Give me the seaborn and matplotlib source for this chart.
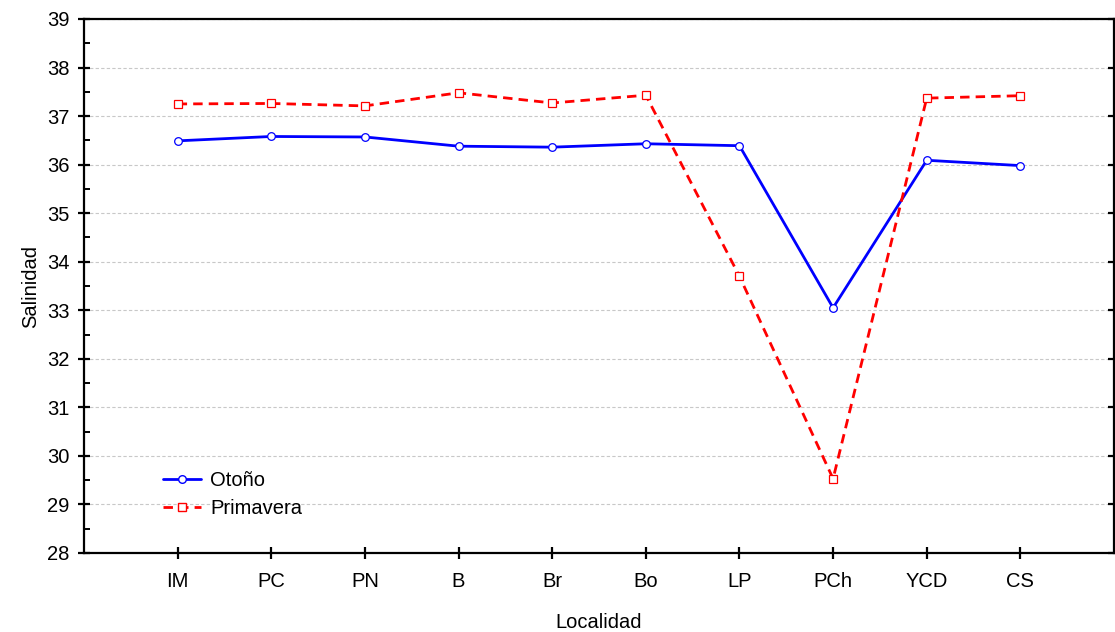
import matplotlib
matplotlib.use("Agg")
import matplotlib.pyplot as plt
from matplotlib.ticker import MultipleLocator
from matplotlib.lines import Line2D
import seaborn as sns
import pandas as pd

localidades = ["IM", "PC", "PN", "B", "Br", "Bo", "LP", "PCh", "YCD", "CS"]
otono = [36.49, 36.58, 36.57, 36.38, 36.36, 36.43, 36.39, 33.05, 36.09, 35.98]
primavera = [37.25, 37.26, 37.21, 37.48, 37.27, 37.43, 33.70, 29.53, 37.37, 37.42]
series = ["Otoño", "Primavera"]

sns.set_theme(style="white")
plt.rcParams['font.family'] = ['Liberation Sans', 'DejaVu Sans']
plt.rcParams['text.color'] = 'black'
plt.rcParams['axes.labelcolor'] = 'black'
plt.rcParams['xtick.color'] = 'black'
plt.rcParams['ytick.color'] = 'black'

df = pd.DataFrame({
    "pos": list(range(len(localidades))) * 2,
    "Salinidad": otono + primavera,
    "Serie": [series[0]] * len(otono) + [series[1]] * len(primavera),
})

fig = plt.figure(figsize=(11.15, 6.32), dpi=100)
ax = fig.add_axes([84/1115, 1 - 553/632, 1030/1115, 534/632])

sns.lineplot(data=df, x="pos", y="Salinidad", hue="Serie", style="Serie",
             palette={"Otoño": "#0000ff", "Primavera": "#ff0000"},
             dashes={"Otoño": "", "Primavera": (3.4, 2.2)},
             markers={"Otoño": "o", "Primavera": "s"},
             markersize=5.5, markerfacecolor="white", markeredgewidth=0.9,
             linewidth=2.0, ax=ax, legend=False)

for line, col in zip(ax.lines, ["#0000ff", "#ff0000"]):
    line.set_markeredgecolor(col)
    line.set_markerfacecolor("white")

ax.set_xlim(-1, len(localidades))
ax.set_ylim(28, 39)
ax.set_xticks(range(len(localidades)))
ax.set_xticklabels(localidades)
ax.yaxis.set_major_locator(MultipleLocator(1))
ax.yaxis.set_minor_locator(MultipleLocator(0.5))

ax.grid(axis="y", which="major", linestyle=(0, (3, 2)), color="#c8c8c8", linewidth=0.8)
ax.set_axisbelow(True)

for s in ax.spines.values():
    s.set_color("black")
    s.set_linewidth(1.6)
    s.set_visible(True)

ax.tick_params(axis="y", which="major", direction="inout", length=9, width=1.6,
               left=True, right=True, labelsize=14.5, pad=6)
ax.tick_params(axis="y", which="minor", direction="in", length=4, width=1.4,
               left=True, right=False)
ax.tick_params(axis="x", which="major", direction="inout", length=9, width=1.6,
               bottom=True, top=False, labelsize=14.5, pad=9)

ax.set_xlabel("Localidad", fontsize=14.5, labelpad=16)
ax.set_ylabel("Salinidad", fontsize=14.5, labelpad=5)

handles = [
    Line2D([], [], color="#0000ff", linewidth=2.0, marker="o", markersize=5.5,
           markerfacecolor="white", markeredgecolor="#0000ff"),
    Line2D([], [], color="#ff0000", linewidth=2.0, linestyle=(0, (3.4, 2.2)), marker="s",
           markersize=5.5, markerfacecolor="white", markeredgecolor="#ff0000"),
]
ax.legend(handles, series, loc="lower left", bbox_to_anchor=(0.061, 0.036),
          frameon=False, fontsize=14.5, handlelength=1.9, handletextpad=0.45,
          labelspacing=0.42, borderpad=0.3)

fig.savefig("out.png", dpi=100)
